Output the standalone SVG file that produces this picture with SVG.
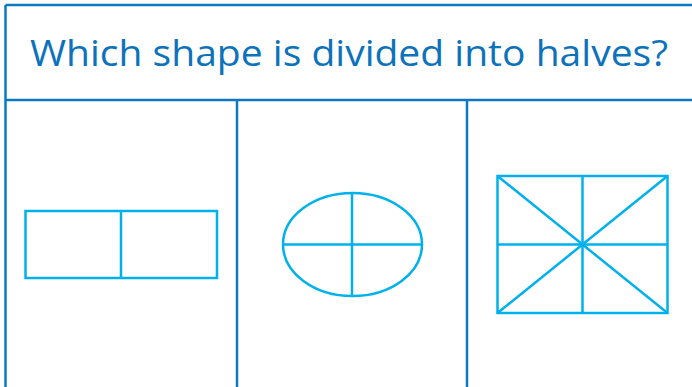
<svg xmlns="http://www.w3.org/2000/svg" width="692" height="387" viewBox="0 0 692 387">
<style>
.frame{stroke:#0b78c4;stroke-width:2.5;fill:none}
.shape{stroke:#00b1ec;stroke-width:2.5;fill:none}
.title{font-family:"Open Sans","Liberation Sans",sans-serif;font-size:37px;fill:#0b72bb}
</style>
<rect width="692" height="387" fill="#fff"/>
<g id="frame">
<line class="frame" x1="5.5" y1="5" x2="692" y2="5"/>
<line class="frame" x1="5.5" y1="5" x2="5.5" y2="387"/>
<line class="frame" x1="5.5" y1="100" x2="692" y2="100"/>
<line class="frame" x1="237" y1="100" x2="237" y2="387"/>
<line class="frame" x1="467" y1="100" x2="467" y2="387"/>
</g>
<g id="title">
<text class="title" x="30" y="66" textLength="638" lengthAdjust="spacingAndGlyphs">Which shape is divided into halves?</text>
</g>
<g id="shape-rectangle">
<rect class="shape" x="25.5" y="211" width="191.5" height="67"/>
<line class="shape" x1="121" y1="211" x2="121" y2="278"/>
</g>
<g id="shape-ellipse">
<ellipse class="shape" cx="352.5" cy="244.5" rx="69.5" ry="51.5"/>
<line class="shape" x1="352" y1="193" x2="352" y2="296"/>
<line class="shape" x1="283" y1="244.5" x2="422" y2="244.5"/>
</g>
<g id="shape-grid">
<rect class="shape" x="497.5" y="176" width="170" height="137"/>
<line class="shape" x1="582.5" y1="176" x2="582.5" y2="313"/>
<line class="shape" x1="497.5" y1="244.5" x2="667.5" y2="244.5"/>
<line class="shape" x1="497.5" y1="176" x2="667.5" y2="313"/>
<line class="shape" x1="667.5" y1="176" x2="497.5" y2="313"/>
</g>
</svg>
